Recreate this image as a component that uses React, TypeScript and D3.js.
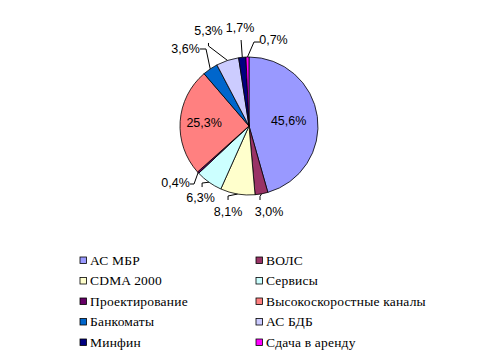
import React from "react";
import * as d3 from "d3";

const categories = [
  "АС МБР",
  "ВОЛС",
  "CDMA 2000",
  "Сервисы",
  "Проектирование",
  "Высокоскоростные каналы",
  "Банкоматы",
  "АС БДБ",
  "Минфин",
  "Сдача в аренду",
];
const values = [45.6, 3.0, 8.1, 6.3, 0.4, 25.3, 3.6, 5.3, 1.7, 0.7];
const labels = ["45,6%", "3,0%", "8,1%", "6,3%", "0,4%", "25,3%", "3,6%", "5,3%", "1,7%", "0,7%"];
const colors = [
  "#9999FF",
  "#993366",
  "#FFFFCC",
  "#CCFFFF",
  "#660066",
  "#FF8080",
  "#0066CC",
  "#CCCCFF",
  "#000080",
  "#FF00FF",
];

// layout for labels: inside => centroid-based; outside => polar position + leader end/elbow offsets
type LabelLayout =
  | { inside: true; r: number }
  | { inside: false; ang: number; r: number; end: [number, number]; elbow: [number, number] };
const labelLayout: LabelLayout[] = [
  { inside: true, r: 40 },
  { inside: false, ang: 166.9, r: 88.3, end: [-9, -12], elbow: [0, -3.5] },
  { inside: false, ang: 193.7, r: 88.5, end: [0, -12], elbow: [0, -4] },
  { inside: false, ang: 213.9, r: 86.8, end: [1.5, -11], elbow: [0, -4] },
  { inside: false, ang: 232.2, r: 93, end: [14.5, 1], elbow: [4, 0] },
  { inside: true, r: 45 },
  { inside: false, ang: 320.5, r: 99.8, end: [14.5, 0], elbow: [6, 0] },
  { inside: false, ang: 336.9, r: 103.3, end: [0, 12], elbow: [0, 3] },
  { inside: false, ang: 354.8, r: 98.4, end: [1, 12], elbow: [0, 0] },
  { inside: false, ang: 15.9, r: 89.4, end: [-13.5, 2], elbow: [-6, 0] },
];

const W = 500;
const H = 360;
const CX = 249;
const CY = 126;
const R = 69;

export default function App() {
  const pie = d3
    .pie<number>()
    .sort(null)
    .value((d) => d)
    .startAngle(0)
    .endAngle(2 * Math.PI);
  const arcs = pie(values);
  const arc = d3.arc<d3.PieArcDatum<number>>().innerRadius(0).outerRadius(R);

  const polar = (angDeg: number, r: number): [number, number] => {
    const a = (angDeg * Math.PI) / 180;
    return [Math.sin(a) * r, -Math.cos(a) * r];
  };

  const line = d3.line();

  const legendRows = Math.ceil(categories.length / 2);
  const legendX = d3.scaleOrdinal<number, number>().domain([0, 1]).range([80, 256]);
  const legendY = d3
    .scaleLinear()
    .domain([0, legendRows - 1])
    .range([260, 342]);

  return (
    <div style={{ position: "absolute", left: 0, top: 0 }}>
      <svg width={W} height={H} style={{ display: "block", background: "#fff" }}>
        <g transform={`translate(${CX},${CY})`}>
          {arcs.map((a, i) => (
            <path
              key={i}
              d={arc(a) || ""}
              fill={colors[i]}
              stroke="#000"
              strokeWidth={0.8}
              strokeLinejoin="round"
            />
          ))}
          {arcs.map((a, i) => {
            const L = labelLayout[i];
            if (L.inside) {
              const c = d3.arc<d3.PieArcDatum<number>>().innerRadius(L.r).outerRadius(L.r).centroid(a);
              return (
                <text
                  key={"t" + i}
                  x={c[0]}
                  y={c[1]}
                  textAnchor="middle"
                  dominantBaseline="central"
                  fontFamily="'Liberation Sans', Arial, sans-serif"
                  fontSize={12.5}
                  fill="#000"
                >
                  {labels[i]}
                </text>
              );
            }
            const mid = (a.startAngle + a.endAngle) / 2;
            const edge: [number, number] = [Math.sin(mid) * R, -Math.cos(mid) * R];
            const [lx, ly] = polar(L.ang, L.r);
            const end: [number, number] = [lx + L.end[0], ly + L.end[1]];
            const elbow: [number, number] = [end[0] + L.elbow[0], end[1] + L.elbow[1]];
            return (
              <g key={"t" + i}>
                <path d={line([edge, elbow, end]) || ""} fill="none" stroke="#000" strokeWidth={1} />
                <text
                  x={lx}
                  y={ly}
                  textAnchor="middle"
                  dominantBaseline="central"
                  fontFamily="'Liberation Sans', Arial, sans-serif"
                  fontSize={12.5}
                  fill="#000"
                >
                  {labels[i]}
                </text>
              </g>
            );
          })}
        </g>
        <g>
          {categories.map((c, i) => {
            const col = i % 2;
            const row = Math.floor(i / 2);
            const x = legendX(col);
            const y = legendY(row);
            return (
              <g key={"l" + i}>
                <rect x={x} y={y - 3} width={6.5} height={6.5} fill={colors[i]} stroke="#000" strokeWidth={0.8} />
                <text
                  x={x + 10}
                  y={y + 4.5}
                  fontFamily="'Liberation Serif', 'Times New Roman', serif"
                  fontSize={13.5}
                  letterSpacing={0.2}
                  fill="#000"
                >
                  {c}
                </text>
              </g>
            );
          })}
        </g>
      </svg>
    </div>
  );
}
